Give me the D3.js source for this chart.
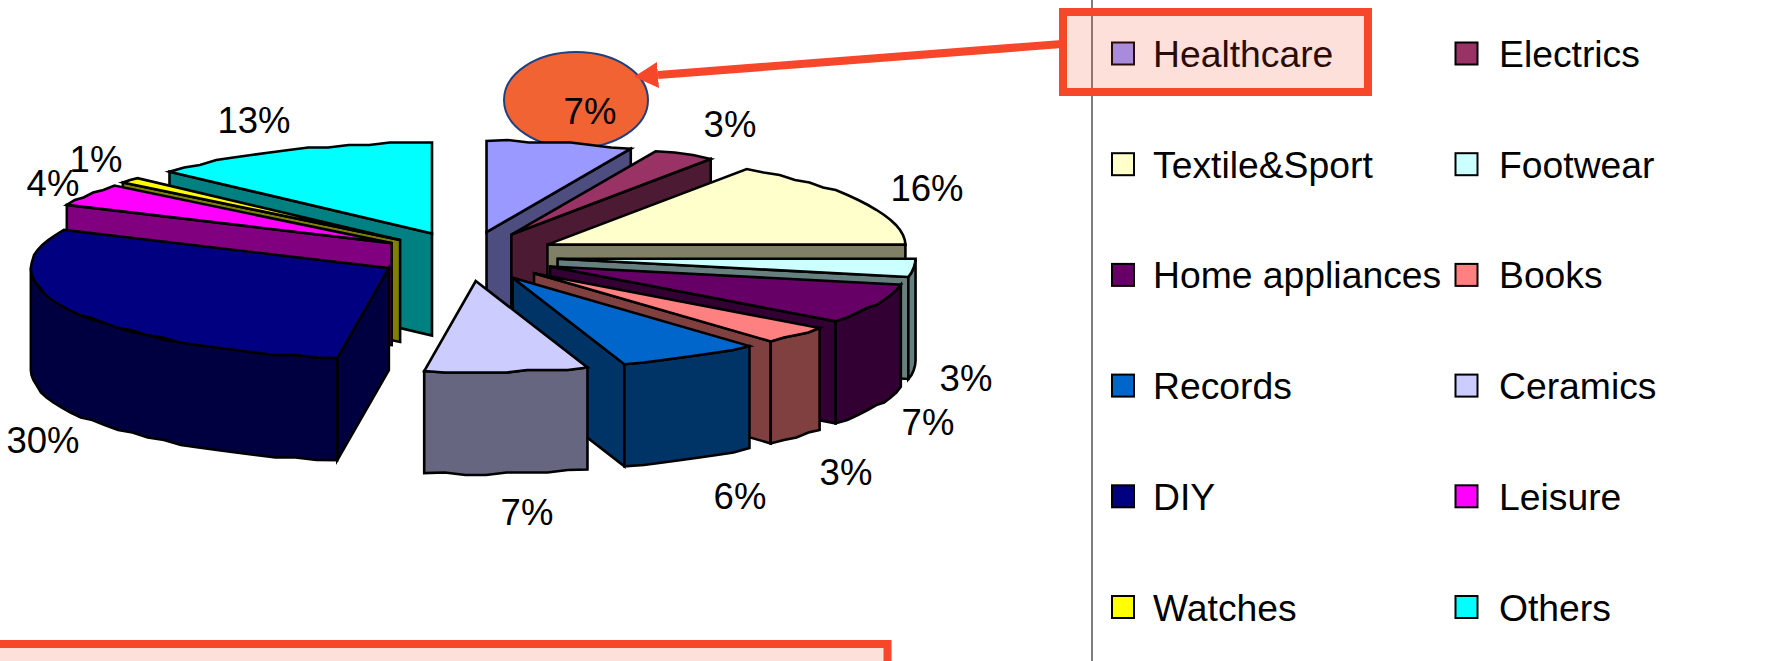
<!DOCTYPE html>
<html><head><meta charset="utf-8">
<script src="https://cdn.jsdelivr.net/npm/d3@7"></script>
<style>html,body{margin:0;padding:0;background:#fff;overflow:hidden}svg{display:block}text{font-family:"Liberation Sans",Arial,sans-serif;fill:#000}</style>
</head><body><div id="chart"></div>
<script>
// data
const categories = ["Healthcare","Electrics","Textile&Sport","Footwear","Home appliances","Books","Records","Ceramics","DIY","Leisure","Watches","Others"];
const shares = [6.6,2.8,15.6,3.2,7.1,3.2,6.45,7.35,29.6,4.0,1.0,13.1];
const topColors = ["#9999ff","#993366","#ffffcc","#ccffff","#660066","#ff8080","#0066cc","#ccccff","#000080","#ff00ff","#ffff00","#00ffff"];
const wallColors = ["#4d4d80","#4d1a33","#808066","#668080","#330033","#804040","#003366","#666680","#000040","#800080","#808000","#008080"];
// painter's order, back to front (indices into categories)
const paintOrder = [0,1,2,3,4,5,6,11,10,9,8,7];
// layout
const W=1776,H=661;
const C={x:468,y:256.3}, EXP={x:90,y:24.8}, R={x:358,y:91}, DEPTH=102;
const labelCentres=[[590,124],[730,137],[927,201],[966,391],[928,435],[846,485],[740,509],[527,525],[43,453],[53,196],[96,172],[254,133]];
const RED="#f7472a";

const svg=d3.select("#chart").append("svg").attr("width",W).attr("height",H);
const defs=svg.append("defs");
defs.append("marker").attr("id","head").attr("markerUnits","userSpaceOnUse").attr("viewBox","0 0 24 26")
  .attr("markerWidth",24).attr("markerHeight",26).attr("refX",0).attr("refY",13).attr("orient","auto")
  .append("path").attr("d","M24,13L0,0L0,26Z").attr("fill",RED);

// callout ellipse behind the pie
svg.append("ellipse").attr("cx",576).attr("cy",100).attr("rx",72).attr("ry",48).attr("fill","#f26333").attr("stroke","#1f3f7f").attr("stroke-width",2);

// pie geometry
const arcs=d3.pie().sort(null).startAngle(0).endAngle(2*Math.PI).value(d=>d)(shares);
const snap=v=>Math.round(v/2.5)*2.5;
const rim=(a,tip,dy=0)=>[tip[0]+R.x*Math.sin(a), tip[1]-R.y*Math.cos(a)+dy];
const arcPts=(a0,a1,tip,dy=0)=>{
  const n=Math.max(1,Math.ceil((a1-a0)/(3.5*Math.PI/180)));
  return d3.range(n+1).map(i=>{
    const p=rim(a0+(a1-a0)*i/n,tip,dy);
    return (i===0||i===n)?p:[p[0],snap(p[1])];
  });
};
const line=d3.line();
const pieG=svg.append("g");
paintOrder.forEach(i=>{
  const d=arcs[i], mid=(d.startAngle+d.endAngle)/2;
  const tip=[C.x+EXP.x*Math.sin(mid), C.y-EXP.y*Math.cos(mid)];
  const g=pieG.append("g");
  const face=(pts,fill)=>g.append("path").attr("d",line(pts)+"Z").attr("fill",fill).attr("stroke","#000").attr("stroke-width",2.6).attr("stroke-linejoin","miter");
  const side=a=>{const p=rim(a,tip);return [tip,p,[p[0],p[1]+DEPTH],[tip[0],tip[1]+DEPTH]];};
  if(d.startAngle>Math.PI) face(side(d.startAngle),wallColors[i]);
  if(d.endAngle<Math.PI) face(side(d.endAngle),wallColors[i]);
  const a0=Math.max(d.startAngle,Math.PI/2), a1=Math.min(d.endAngle,3*Math.PI/2);
  if(a1>a0) face(arcPts(a0,a1,tip).concat(arcPts(a0,a1,tip,DEPTH).reverse()),wallColors[i]);
  face([tip].concat(arcPts(d.startAngle,d.endAngle,tip)),topColors[i]);
});

// value labels
svg.append("g").selectAll("text").data(arcs).join("text")
  .attr("x",(d,i)=>labelCentres[i][0]).attr("y",(d,i)=>labelCentres[i][1])
  .attr("text-anchor","middle").attr("font-size",36.5)
  .text(d=>d3.format(".0f")(d.value)+"%");

// legend
const rowY=d3.scalePoint().domain(d3.range(6)).range([53.5,607]);
const colX=d3.scalePoint().domain([0,1]).range([1111,1454.5]);
svg.append("line").attr("x1",1092).attr("x2",1092).attr("y1",0).attr("y2",H).attr("stroke","#808080").attr("stroke-width",2);
const leg=svg.append("g").selectAll("g").data(categories).join("g")
  .attr("transform",(d,i)=>`translate(${colX(i%2)},${rowY(Math.floor(i/2))})`);
leg.append("rect").attr("x",1).attr("y",-11).attr("width",22).attr("height",22).attr("fill",(d,i)=>topColors[i]).attr("stroke","#000").attr("stroke-width",2);
leg.append("text").attr("x",(d,i)=>i%2?44.5:42).attr("y",13.5).attr("font-size",37.3).text(d=>d);

// highlight boxes and arrow
svg.append("rect").attr("x",1063).attr("y",12).attr("width",305).attr("height",80).attr("fill",RED).attr("fill-opacity",.17).attr("stroke",RED).attr("stroke-width",8);
svg.append("line").attr("x1",1062).attr("y1",44).attr("x2",658).attr("y2",75).attr("stroke",RED).attr("stroke-width",8).attr("marker-end","url(#head)");
svg.append("rect").attr("x",-20).attr("y",644).attr("width",907.5).attr("height",60).attr("fill",RED).attr("fill-opacity",.17).attr("stroke",RED).attr("stroke-width",8);
</script></body></html>
